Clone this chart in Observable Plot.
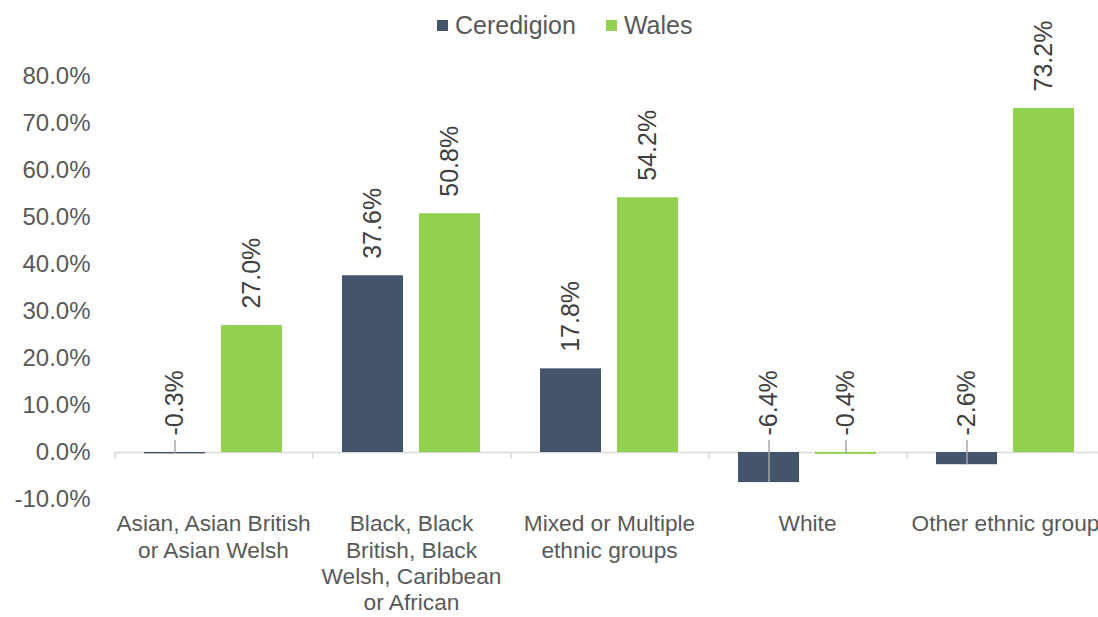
<!DOCTYPE html>
<html><head><meta charset="utf-8">
<script src="https://cdn.jsdelivr.net/npm/d3@7"></script>
<script src="https://cdn.jsdelivr.net/npm/@observablehq/plot@0.6"></script>
<style>
body{margin:0;background:#fff;font-family:"Liberation Sans",Arial,sans-serif;overflow:hidden;position:relative;}
#legend{position:absolute;top:0;left:0;height:50px;display:flex;align-items:center;padding-left:437px;font-size:25px;color:#595959;box-sizing:border-box;z-index:2;}
.item{display:flex;align-items:center;margin-right:30px}
.sw{width:11px;height:11px;display:inline-block;margin-right:7px}
#chart svg{display:block}
</style></head><body>
<div id="legend"></div><div id="chart"></div>
<script>
const categories = [
  "Asian, Asian British\nor Asian Welsh",
  "Black, Black\nBritish, Black\nWelsh, Caribbean\nor African",
  "Mixed or Multiple\nethnic groups",
  "White",
  "Other ethnic group"
];
const series = ["Ceredigion", "Wales"];
const ceredigion = [-0.3, 37.6, 17.8, -6.4, -2.6];
const wales = [27.0, 50.8, 54.2, -0.4, 73.2];
const colors = ["#44546A", "#92D050"];
const yTicks = [-10, 0, 10, 20, 30, 40, 50, 60, 70, 80];

const rows = [];
categories.forEach((c, i) => {
  rows.push({category: c, series: series[0], value: ceredigion[i]});
  rows.push({category: c, series: series[1], value: wales[i]});
});
const negatives = rows.filter(d => d.value < 0);

// legend
const legend = document.getElementById("legend");
series.forEach((s, i) => {
  const it = document.createElement("div");
  it.className = "item";
  it.innerHTML = `<span class="sw" style="background:${colors[i]}"></span><span>${s}</span>`;
  legend.appendChild(it);
});

const outerPad = 0.372, innerPad = 0.205;
const bandW = 198;
const step = bandW / (2 - innerPad + 2 * outerPad);
const bw = step * (1 - innerPad);

const chart = Plot.plot({
  width: 1098,
  height: 617,
  marginLeft: 114,
  marginRight: 0,
  marginTop: 76,
  marginBottom: 118,
  style: {fontFamily: '"Liberation Sans", Arial, sans-serif', background: "#fff", overflow: "hidden"},
  fx: {domain: categories, range: [114, 114 + bandW * categories.length], padding: 0, label: null},
  x: {domain: series, paddingInner: innerPad, paddingOuter: outerPad, axis: null},
  y: {domain: [-10, 80], ticks: yTicks, label: null},
  color: {domain: series, range: colors},
  marks: [
    Plot.axisY({ticks: yTicks, tickSize: 0, tickPadding: 24, fontSize: 24, color: "#595959",
      tickFormat: d => d.toFixed(1) + "%", label: null}),
    Plot.axisFx({anchor: "bottom", tickSize: 0, tickPadding: 13, fontSize: 22.7, lineHeight: 1.16,
      color: "#595959", label: null}),
    Plot.ruleY([0], {stroke: "#d9d9d9", strokeWidth: 1.5}),
    Plot.ruleX(categories, {fx: d => d, x: () => series[0], y1: 0, y2: -1.5,
      dx: -(outerPad * step + bw / 2), stroke: "#d9d9d9", strokeWidth: 1.5}),
    Plot.barY(rows, {fx: "category", x: "series", y: "value", fill: "series"}),
    Plot.ruleX(negatives, {fx: "category", x: "series", y1: 0, y2: "value", insetTop: -12,
      stroke: "#a6a6a6", strokeWidth: 1.5}),
    Plot.text(rows, {fx: "category", x: "series", y: d => Math.max(0, d.value),
      text: d => d.value.toFixed(1) + "%", rotate: -90, textAnchor: "start", dy: -17,
      fontSize: 25, fill: "#404040"})
  ]
});
document.getElementById("chart").appendChild(chart);
</script>
</body></html>
